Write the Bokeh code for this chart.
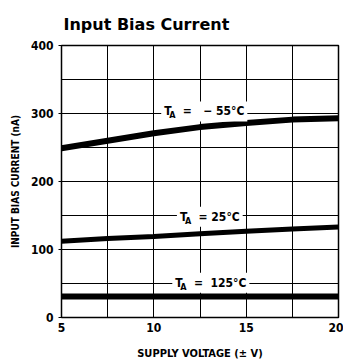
from bokeh.plotting import figure
from bokeh.models import Range1d, FixedTicker, Label
from bokeh.embed import file_html
from bokeh.resources import INLINE

# ---- data ----
supply_voltage = [5, 7.5, 10, 12.5, 15, 17.5, 20]
ib_minus55 = [249, 260, 271, 280, 286, 291, 293]
ib_25 = [112, 116, 119, 123, 127, 130, 133]
ib_125 = [31, 31, 31, 31, 31, 31, 31]

x_ticks = [5, 10, 15, 20]
y_ticks = [0, 100, 200, 300, 400]
x_grid = [5, 7.5, 10, 12.5, 15, 17.5, 20]
y_grid = [0, 50, 100, 150, 200, 250, 300, 350, 400]

NARROW = "DejaVu Sans Condensed, Liberation Sans Narrow, sans-serif"
NB = "\u00a0"

p = figure(width=343, height=364, output_backend="svg", toolbar_location=None,
           x_range=Range1d(5, 20), y_range=Range1d(0, 400),
           min_border_left=61, min_border_right=5, min_border_top=45,
           min_border_bottom=47, background_fill_color="white",
           border_fill_color="white")

p.title.text = "Input Bias Current"
p.title.text_font = "DejaVu Sans"
p.title.text_font_size = "16px"
p.title.text_font_style = "bold"
p.title.text_color = "black"
p.title.align = "left"
p.title.vertical_align = "top"
p.title.offset = 2
p.title.standoff = 20

p.outline_line_color = "black"
p.outline_line_width = 1.5

for ax in (p.xaxis[0], p.yaxis[0]):
    ax.axis_line_color = "black"
    ax.major_label_text_font = NARROW
    ax.major_label_text_font_size = "12px"
    ax.major_label_text_font_style = "bold"
    ax.major_label_text_color = "black"
    ax.axis_label_text_font = NARROW
    ax.axis_label_text_font_size = "11px"
    ax.axis_label_text_font_style = "bold"
    ax.axis_label_text_color = "black"
    ax.minor_tick_line_color = None

p.yaxis.axis_label_text_font_size = "10px"
p.xaxis.ticker = FixedTicker(ticks=x_ticks)
p.yaxis.ticker = FixedTicker(ticks=y_ticks)
p.xaxis.major_tick_out = 0
p.xaxis.major_tick_in = 0
p.yaxis.major_tick_out = 3
p.yaxis.major_tick_in = 0
p.xaxis.major_label_standoff = 5
p.yaxis.major_label_standoff = 5
p.xaxis.axis_label = "SUPPLY VOLTAGE (± V)"
p.yaxis.axis_label = "INPUT BIAS CURRENT (nA)"
p.xaxis.axis_label_standoff = 12
p.yaxis.axis_label_standoff = 7

p.xgrid.ticker = FixedTicker(ticks=x_grid)
p.ygrid.ticker = FixedTicker(ticks=y_grid)
for g in (p.xgrid[0], p.ygrid[0]):
    g.grid_line_color = "black"
    g.grid_line_width = 1
    g.grid_line_alpha = 1

p.line(supply_voltage, ib_minus55, line_color="black", line_width=6)
p.line(supply_voltage, ib_25, line_color="black", line_width=5)
p.line(supply_voltage, ib_125, line_color="black", line_width=6)

def curve_label(x, y, rest):
    main = Label(x=x, y=y, text="T" + NB * 3 + rest, text_font=NARROW,
                 text_font_size="12px", text_font_style="bold",
                 text_baseline="middle", text_color="black",
                 background_fill_color="white", padding=3)
    sub = Label(x=x, y=y, x_offset=8, y_offset=-4, text="A", text_font=NARROW,
                text_font_size="9px", text_font_style="bold",
                text_baseline="middle", text_color="black")
    p.add_layout(main)
    p.add_layout(sub)

curve_label(10.4, 303, "=" + NB * 3 + "−" + NB + "55°C")
curve_label(11.25, 148, "=" + NB + "25°C")
curve_label(11.0, 51, "=" + NB * 2 + "125°C")

open("out.html", "w").write(file_html(p, INLINE))
